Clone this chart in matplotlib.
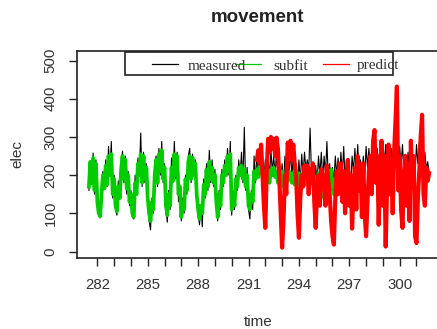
import numpy as np
import matplotlib
matplotlib.use("Agg")
import matplotlib.pyplot as plt
from matplotlib.patches import Rectangle
from matplotlib.ticker import FixedLocator, FuncFormatter

# Readings taken every 2 hours starting at day 281.5
start_day = 281.5
step = 1 / 12

measured = [
    160, 225, 175, 258, 150, 240, 120, 95, 88, 160, 210, 165,
    240, 170, 275, 210, 288, 140, 200, 110, 95, 185, 140, 230,
    263, 180, 250, 150, 210, 120, 160, 90, 85, 200, 150, 245,
    200, 310, 170, 260, 180, 230, 130, 80, 57, 140, 100, 230,
    250, 170, 270, 200, 288, 180, 230, 110, 77, 160, 110, 245,
    180, 288, 190, 260, 130, 170, 80, 140, 100, 200, 150, 250,
    270, 180, 255, 200, 240, 130, 100, 70, 120, 65, 190, 140,
    230, 160, 265, 180, 240, 170, 215, 120, 80, 160, 110, 215,
    170, 240, 200, 270, 200, 288, 95, 160, 110, 200, 160, 240,
    200, 260, 180, 325, 160, 220, 110, 85, 160, 110, 250, 180,
    260, 200, 270, 215, 250, 190, 240, 200, 250, 190, 265, 210,
    250, 200, 260, 190, 240, 180, 230, 170, 250, 210, 235, 200,
    265, 200, 250, 190, 230, 170, 240, 180, 255, 200, 260, 215,
    240, 210, 323, 200, 235, 170, 225, 180, 250, 200, 260, 190,
    250, 200, 288, 190, 230, 160, 220, 180, 250, 200, 245, 190,
    260, 200, 275, 185, 240, 160, 220, 175, 250, 210, 270, 200,
    280, 210, 240, 190, 250, 200, 275, 220, 270, 210, 260, 220,
    265, 210, 270, 200, 240, 215, 285, 230, 280, 210, 265, 230,
    270, 215, 290, 220, 250, 200, 275, 225, 280, 205, 255, 220,
    260, 210, 275, 220, 240, 200, 280, 230, 285, 210, 260, 225,
    260, 215, 235, 210,
]

subfit = [
    170, 235, 180, 245, 160, 230, 130, 100, 92, 150, 200, 165,
    225, 175, 250, 200, 255, 150, 190, 120, 105, 170, 140, 215,
    250, 190, 240, 165, 200, 130, 150, 100, 90, 180, 150, 230,
    200, 255, 180, 250, 190, 220, 140, 100, 80, 130, 110, 200,
    240, 180, 255, 210, 265, 190, 220, 120, 95, 150, 120, 220,
    185, 255, 200, 250, 150, 170, 90, 120, 110, 190, 160, 235,
    250, 190, 245, 200, 230, 150, 110, 85, 120, 100, 175, 150,
    215, 170, 235, 190, 220, 180, 200, 130, 90, 150, 120, 200,
    180, 225, 200, 250, 210, 255, 110, 150, 120, 190, 170, 220,
    200, 225, 190, 215, 170, 200, 120, 110, 150, 130, 210, 190,
    215, 195, 225, 205, 215, 190, 210, 185, 200, 180, 215, 200,
    220, 195, 210, 180, 200, 185, 210, 170, 195, 205, 185, 210,
    200, 180, 205, 175, 195, 170, 205, 160, 190, 200, 175, 210,
    205, 220, 195, 215, 190, 170, 195, 180, 205, 185, 200, 170,
    140, 190, 165, 205, 185, 215, 170, 150, 190, 165, 210, 190,
    210, 185, 205, 170, 195, 180, 200, 150, 127,
]

# prediction starts at reading index 120 (day 291.5)
predict_start = 120
predict = [
    240, 265, 230, 280, 200, 120, 62, 210, 295, 260, 300, 270,
    295, 250, 298, 270, 190, 100, 10, 80, 200, 150, 285, 260,
    290, 240, 280, 230, 200, 100, 36, 140, 200, 170, 225, 195,
    225, 150, 215, 180, 230, 130, 62, 160, 200, 120, 215, 180,
    200, 120, 225, 185, 150, 80, 40, 18, 140, 210, 150, 230,
    230, 130, 210, 100, 180, 240, 120, 200, 60, 160, 220, 110,
    250, 160, 230, 90, 230, 100, 40, 130, 210, 250, 150, 290,
    318, 180, 250, 70, 200, 290, 120, 250, 13, 170, 280, 150,
    240, 100, 260, 340, 432, 160, 250, 110, 62, 200, 250, 120,
    230, 80, 290, 170, 250, 40, 22, 140, 210, 300, 358, 150,
    120, 220, 185, 205,
]

legend_labels = ["measured", "subfit", "predict"]
legend_colors = ["black", "#00cc00", "red"]

t = start_day + np.arange(len(measured)) * step
t_fit = t[:len(subfit)]
t_pred = t[predict_start:predict_start + len(predict)]

W, H = 437, 329
fig = plt.figure(figsize=(W / 100, H / 100), dpi=100)
ax = fig.add_axes([77 / W, (H - 258) / H, (439 - 77) / W, (258 - 51) / H])

ax.plot(t, measured, color="black", lw=0.8)
ax.plot(t_fit, subfit, color="#00cc00", lw=2.7)
ax.plot(t_pred, predict, color="red", lw=3.0)

ax.set_xlim(280.79, 302.34)
ax.set_ylim(-17, 525)

txt = "#333333"
sans = "Liberation Sans"

ax.xaxis.set_major_locator(FixedLocator(np.arange(282, 302)))
ax.xaxis.set_major_formatter(FuncFormatter(lambda v, p: f"{v:.0f}" if round(v) % 3 == 0 else ""))
ax.yaxis.set_major_locator(FixedLocator([0, 100, 200, 300, 400, 500]))
ax.tick_params(direction="out", length=6, width=1, color="#222222", labelsize=10.8,
               labelcolor=txt, labelfontfamily=sans)
ax.tick_params(axis="x", pad=8.5)
ax.tick_params(axis="y", pad=8)
for lab in ax.get_yticklabels():
    lab.set_rotation(90)
    lab.set_va("center")

for s in ax.spines.values():
    s.set_linewidth(1.2)
    s.set_color("#222222")

ax.set_xlabel("time", fontsize=11, color=txt, family=sans)
ax.xaxis.set_label_coords(0.5, (258 - 322) / 207)
ax.xaxis.label.set_va("center")
ax.set_ylabel("elec", fontsize=11, color=txt, family=sans)
ax.yaxis.set_label_coords((17 - 77) / 362, 0.5)
ax.yaxis.label.set_va("center")

fig.text(258 / W, 1 - 17.5 / H, "movement", ha="center", va="center",
         fontsize=13.5, fontweight="bold", family=sans, color="#222222")

# legend box drawn like R's horizontal legend
def fx(px):
    return px / W

def fy(py):
    return 1 - py / H

fig.add_artist(Rectangle((fx(125), fy(75)), fx(393) - fx(125), fy(51.5) - fy(75),
                         transform=fig.transFigure, fill=False, lw=1.2, ec="#222222"))
line_x = [152, 235, 323]
text_x = [188, 273, 357]
for lx, tx, lab, col in zip(line_x, text_x, legend_labels, legend_colors):
    fig.add_artist(plt.Line2D([fx(lx), fx(lx + 26)], [fy(64), fy(64)],
                              transform=fig.transFigure, color=col, lw=0.9))
    fig.text(fx(tx), fy(66), lab, ha="left", va="center", fontsize=11,
             family="Liberation Serif", color=txt)

fig.savefig("out.png", dpi=100)
